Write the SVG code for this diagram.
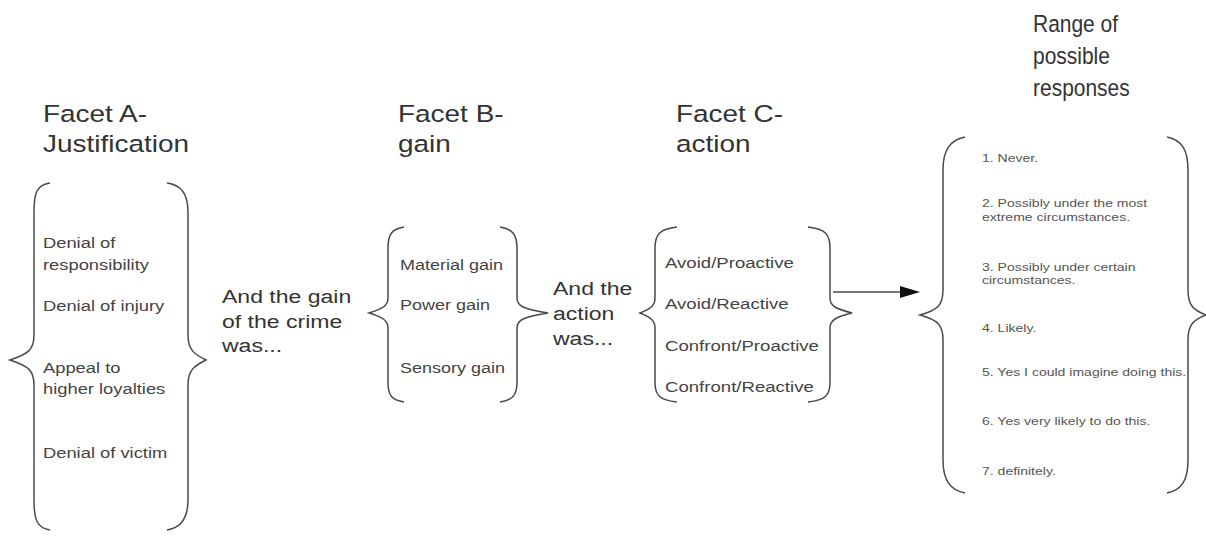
<svg xmlns="http://www.w3.org/2000/svg" width="1206" height="536" viewBox="0 0 1206 536">
<style>
text{font-family:"Liberation Sans",Arial,sans-serif;fill:#333}
.h{font-size:23.3px}
.a{font-size:15.3px;fill:#444}
.m{font-size:19.2px;fill:#333}
.b{font-size:15px;fill:#444}
.c{font-size:15.5px;fill:#444}
.d{font-size:11.7px;fill:#555}
.br{fill:none;stroke:#4a4a4a;stroke-width:1.5}
</style>
<rect width="1206" height="536" fill="#fff"/>
<g id="headings" transform="scale(1.2,1)">
<text class="h" x="35.83" y="122">Facet A-</text>
<text class="h" x="35.83" y="152">Justification</text>
<text class="h" x="331.67" y="122">Facet B-</text>
<text class="h" x="331.67" y="152">gain</text>
<text class="h" x="563.33" y="122">Facet C-</text>
<text class="h" x="563.33" y="152">action</text>
</g>
<g id="rangeHeading" transform="scale(0.9,1)">
<text class="h" x="1147.8" y="32">Range of</text>
<text class="h" x="1147.8" y="64">possible</text>
<text class="h" x="1147.8" y="96">responses</text>
</g>
<g id="facetA">
<path class="br" d="M50,183 C37,185 34,192 34,212 L34,335 C34,350 28,354 10,360 C28,366 34,370 34,385 L34,500 C34,520 37,528 50,530"/>
<path class="br" d="M167,183 C180,185 188,192 188,212 L188,335 C188,350 194,354 206,360 C194,366 188,370 188,385 L188,500 C188,520 180,528 167,530"/>
<g transform="scale(1.2,1)">
<text class="a" x="35.83" y="248">Denial of</text>
<text class="a" x="35.83" y="270">responsibility</text>
<text class="a" x="35.83" y="311">Denial of injury</text>
<text class="a" x="35.83" y="373">Appeal to</text>
<text class="a" x="35.83" y="394">higher loyalties</text>
<text class="a" x="35.83" y="458">Denial of victim</text>
</g>
</g>
<g id="gainLabel" transform="scale(1.2,1)">
<text class="m" x="185" y="303">And the gain</text>
<text class="m" x="185" y="328">of the crime</text>
<text class="m" x="185" y="352">was...</text>
</g>
<g id="facetB">
<path class="br" d="M404,227 C392,229 388,234 388,248 L388,298 C388,306 382,309 369,313 C382,317 388,320 388,328 L388,382 C388,396 392,400 404,402"/>
<path class="br" d="M500,227 C512,229 517,234 517,248 L517,298 C517,306 523,309 548,313 C523,317 517,320 517,328 L517,382 C517,396 512,400 500,402"/>
<g transform="scale(1.2,1)">
<text class="b" x="333.33" y="270">Material gain</text>
<text class="b" x="333.33" y="310">Power gain</text>
<text class="b" x="333.33" y="373">Sensory gain</text>
</g>
</g>
<g id="actionLabel" transform="scale(1.2,1)">
<text class="m" x="460.83" y="295">And the</text>
<text class="m" x="460.83" y="320">action</text>
<text class="m" x="460.83" y="345">was...</text>
</g>
<g id="facetC">
<path class="br" d="M677,227 C660,229 655,234 655,248 L655,298 C655,306 650,309 640,313 C650,317 655,320 655,328 L655,382 C655,396 660,400 677,402"/>
<path class="br" d="M808,227 C825,229 830,234 830,248 L830,298 C830,306 836,309 852,313 C836,317 830,320 830,328 L830,382 C830,396 825,400 808,402"/>
<g transform="scale(1.2,1)">
<text class="c" x="554.17" y="268">Avoid/Proactive</text>
<text class="c" x="554.17" y="309">Avoid/Reactive</text>
<text class="c" x="554.17" y="351">Confront/Proactive</text>
<text class="c" x="554.17" y="392">Confront/Reactive</text>
</g>
</g>
<g id="connectors">
<line x1="833" y1="292" x2="901" y2="292" stroke="#777" stroke-width="2"/>
<polygon points="900,286 920,292 900,298" fill="#111"/>
</g>
<g id="responses">
<path class="br" d="M965,137 C950,140 943,150 943,170 L943,290 C943,305 938,310 920,315 C938,320 943,325 943,340 L943,460 C943,480 950,490 965,493"/>
<path class="br" d="M1167,137 C1182,140 1188,150 1188,170 L1188,290 C1188,305 1193,310 1206,315 C1193,320 1188,325 1188,340 L1188,460 C1188,480 1182,490 1167,493"/>
<g transform="scale(1.2,1)">
<text class="d" x="818.33" y="162">1. Never.</text>
<text class="d" x="818.33" y="207">2. Possibly under the most</text>
<text class="d" x="818.33" y="221">extreme circumstances.</text>
<text class="d" x="818.33" y="271">3. Possibly under certain</text>
<text class="d" x="818.33" y="284">circumstances.</text>
<text class="d" x="818.33" y="332">4. Likely.</text>
<text class="d" x="818.33" y="376">5. Yes I could imagine doing this.</text>
<text class="d" x="818.33" y="425">6. Yes very likely to do this.</text>
<text class="d" x="818.33" y="475">7. definitely.</text>
</g>
</g>
</svg>
